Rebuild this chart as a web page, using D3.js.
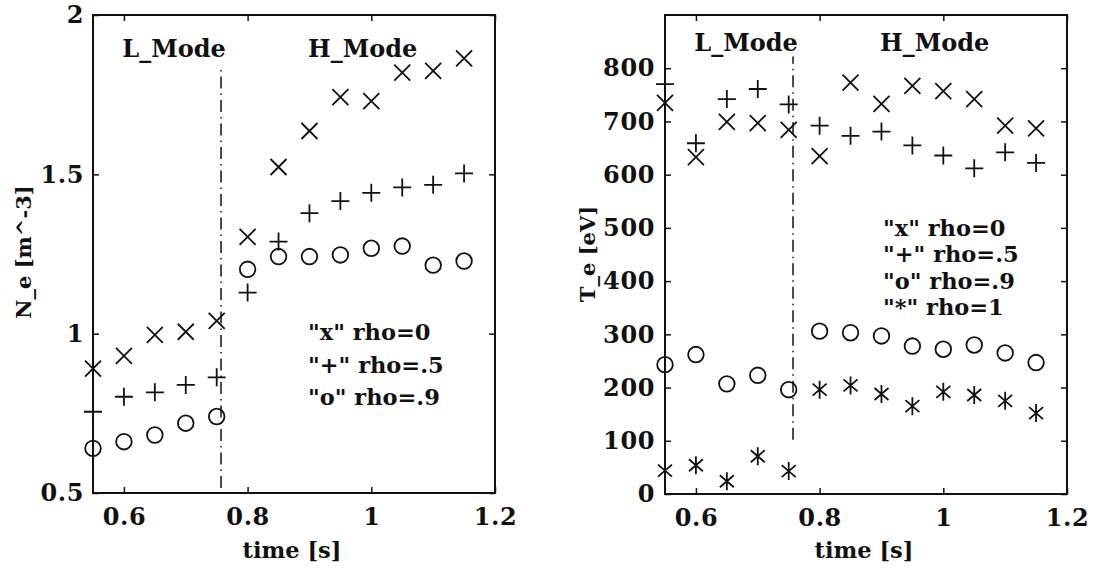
<!DOCTYPE html>
<html>
<head>
<meta charset="utf-8">
<script src="https://cdn.jsdelivr.net/npm/d3@7"></script>
<style>
  body { margin: 0; background: #fff; }
  text { font-family: "DejaVu Serif", serif; font-weight: bold; fill: #111; }
</style>
</head>
<body>
<svg id="chart" width="1095" height="568"></svg>
<script>
// sample times [s]
const times = [0.55, 0.6, 0.65, 0.7, 0.75, 0.8, 0.85, 0.9, 0.95, 1.0, 1.05, 1.1, 1.15];

// electron density N_e
const neRho0 = [0.89, 0.93, 0.996, 1.006, 1.04, 1.304, 1.523, 1.636, 1.742, 1.73, 1.819, 1.825, 1.864];
const neRho05 = [0.755, 0.802, 0.816, 0.839, 0.863, 1.129, 1.289, 1.378, 1.416, 1.442, 1.459, 1.467, 1.503];
const neRho09 = [0.64, 0.661, 0.682, 0.719, 0.74, 1.202, 1.242, 1.242, 1.247, 1.268, 1.275, 1.215, 1.228];

// electron temperature T_e [eV]
const teRho0 = [735, 633, 699, 697, 684, 635, 773, 733, 767, 757, 742, 692, 687];
const teRho05 = [770, 659, 742, 761, 732, 692, 673, 681, 655, 636, 612, 642, 622];
const teRho09 = [243, 262, 207, 223, 196, 306, 303, 297, 278, 272, 280, 265, 247];
const teRho1 = [44, 54, 24, 71, 43, 196, 204, 188, 165, 192, 186, 175, 152];

// L -> H transition time
const transitionTime = 0.757;

const timeTicks = [0.6, 0.8, 1, 1.2];
const neTicks = [0.5, 1, 1.5, 2];
const teTicks = [0, 100, 200, 300, 400, 500, 600, 700, 800];

const neLegend = ['"x" rho=0', '"+" rho=.5', '"o" rho=.9'];
const teLegend = ['"x" rho=0', '"+" rho=.5', '"o" rho=.9', '"*" rho=1'];

const svg = d3.select("#chart");

// stroke-only markers, drawn around (0,0)
const markers = {
  x: "M-8,-8L8,8M-8,8L8,-8",
  plus: "M-9,0L9,0M0,-9L0,9",
  circle: d3.arc()({ innerRadius: 0, outerRadius: 7.8, startAngle: 0, endAngle: 2 * Math.PI }),
  star: "M0,-9L0,9M-7,-6L7,6M-7,6L7,-6",
};

function drawPanel(opts) {
  const x = d3.scaleLinear().domain([0.55, 1.2]).range([opts.left, opts.right]);
  const y = d3.scaleLinear().domain(opts.yDomain).range([opts.bottom, opts.top]);
  const g = svg.append("g");

  // frame
  g.append("rect")
    .attr("x", opts.left)
    .attr("y", opts.top)
    .attr("width", opts.right - opts.left)
    .attr("height", opts.bottom - opts.top)
    .attr("fill", "none")
    .attr("stroke", "#111")
    .attr("stroke-width", 2);

  const fmt = (d) => String(d);

  const axes = [
    { axis: d3.axisBottom(x).tickValues(timeTicks).tickFormat(fmt).tickPadding(15), at: `translate(0,${opts.bottom})` },
    { axis: d3.axisTop(x).tickValues(timeTicks).tickFormat(""), at: `translate(0,${opts.top})` },
    { axis: d3.axisLeft(y).tickValues(opts.yTicks).tickFormat(fmt).tickPadding(opts.yPad), at: `translate(${opts.left},0)` },
    { axis: d3.axisRight(y).tickValues(opts.yTicks).tickFormat(""), at: `translate(${opts.right},0)` },
  ];

  axes.forEach(({ axis, at }) => {
    const a = g.append("g")
      .attr("transform", at)
      .call(axis.tickSizeInner(-6).tickSizeOuter(0));
    a.select(".domain").remove();
    a.selectAll(".tick line").attr("stroke", "#111").attr("stroke-width", 1.5);
    a.selectAll(".tick text")
      .attr("font-size", 24)
      .attr("letter-spacing", 0.6)
      .attr("font-family", '"DejaVu Serif", serif');
  });

  // L/H transition, dash-dot
  g.append("line")
    .attr("x1", x(transitionTime))
    .attr("x2", x(transitionTime))
    .attr("y1", y(opts.switchSpan[0]))
    .attr("y2", y(opts.switchSpan[1]))
    .attr("stroke", "#111")
    .attr("stroke-width", 1.5)
    .attr("stroke-dasharray", "12,5,1.5,5");

  // data markers
  opts.series.forEach((s) => {
    g.append("g")
      .selectAll("path")
      .data(s.values)
      .join("path")
      .attr("transform", (d, i) => `translate(${x(times[i])},${y(d)})`)
      .attr("d", markers[s.marker])
      .attr("fill", "none")
      .attr("stroke", "#111")
      .attr("stroke-width", 1.8);
  });

  // mode labels
  g.append("text")
    .attr("x", x(0.681))
    .attr("y", opts.modeY)
    .attr("text-anchor", "middle")
    .attr("font-size", 24)
    .text("L_Mode");
  g.append("text")
    .attr("x", x(0.986))
    .attr("y", opts.modeY)
    .attr("text-anchor", "middle")
    .attr("font-size", 24)
    .text("H_Mode");

  // legend text
  g.append("g")
    .selectAll("text")
    .data(opts.legend)
    .join("text")
    .attr("x", opts.legendX)
    .attr("y", (d, i) => opts.legendY + i * opts.legendStep)
    .attr("font-size", 22.5)
    .text((d) => d);

  // axis titles
  g.append("text")
    .attr("x", (opts.left + opts.right) / 2 - 2)
    .attr("y", 558)
    .attr("text-anchor", "middle")
    .attr("font-size", 22.5)
    .text("time [s]");

  g.append("text")
    .attr("transform", `translate(${opts.yLabelX},${opts.yLabelY}) rotate(-90)`)
    .attr("text-anchor", "middle")
    .attr("dominant-baseline", "central")
    .attr("font-size", 21)
    .text(opts.yLabel);
}

drawPanel({
  left: 93, right: 495, top: 15, bottom: 493,
  yDomain: [0.5, 2], yTicks: neTicks, yPad: 9,
  switchSpan: [0.516, 1.843],
  series: [
    { values: neRho0, marker: "x" },
    { values: neRho05, marker: "plus" },
    { values: neRho09, marker: "circle" },
  ],
  modeY: 57,
  legend: neLegend, legendX: 308, legendY: 340, legendStep: 32.5,
  yLabel: "N_e [m^-3]", yLabelX: 23, yLabelY: 252,
});

drawPanel({
  left: 665, right: 1067, top: 15, bottom: 494,
  yDomain: [0, 900], yTicks: teTicks, yPad: 10,
  switchSpan: [102, 822],
  series: [
    { values: teRho0, marker: "x" },
    { values: teRho05, marker: "plus" },
    { values: teRho09, marker: "circle" },
    { values: teRho1, marker: "star" },
  ],
  modeY: 51,
  legend: teLegend, legendX: 883, legendY: 236, legendStep: 26.4,
  yLabel: "T_e [eV]", yLabelX: 587, yLabelY: 254,
});
</script>
</body>
</html>
